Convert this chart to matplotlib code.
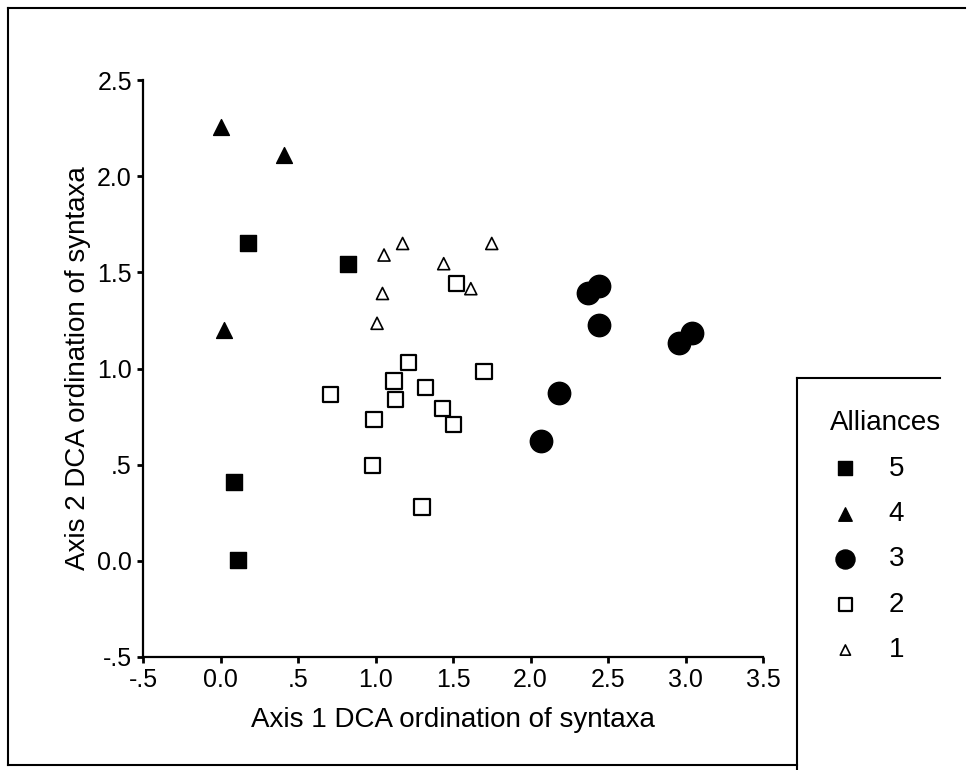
"""DCA ordination of syntaxa, axis 1 vs axis 2, coloured by alliance."""

import matplotlib

matplotlib.use("Agg")
import matplotlib.pyplot as plt
from matplotlib.lines import Line2D

plt.rcParams["font.family"] = ["Liberation Sans", "DejaVu Sans"]

# scores, one pair of lists per alliance
all5_x = [0.18, 0.82, 0.09, 0.11]
all5_y = [1.65, 1.545, 0.41, 0.005]

all4_x = [0.005, 0.41, 0.02]
all4_y = [2.255, 2.11, 1.20]

all3_x = [2.37, 2.445, 2.44, 2.185, 2.065, 2.955, 3.04]
all3_y = [1.39, 1.43, 1.225, 0.875, 0.625, 1.135, 1.185]

all2_x = [1.215, 1.70, 1.12, 1.13, 1.325, 1.43, 1.505, 0.99, 0.98, 0.71, 1.30, 1.525]
all2_y = [1.03, 0.985, 0.935, 0.84, 0.90, 0.79, 0.71, 0.735, 0.495, 0.865, 0.28, 1.44]

all1_x = [1.055, 1.175, 1.75, 1.44, 1.615, 1.045, 1.01]
all1_y = [1.59, 1.65, 1.65, 1.545, 1.415, 1.39, 1.235]

x_ticks = [-0.5, 0.0, 0.5, 1.0, 1.5, 2.0, 2.5, 3.0, 3.5]
x_tick_labels = ["-.5", "0.0", ".5", "1.0", "1.5", "2.0", "2.5", "3.0", "3.5"]
y_ticks = [-0.5, 0.0, 0.5, 1.0, 1.5, 2.0, 2.5]
y_tick_labels = ["-.5", "0.0", ".5", "1.0", "1.5", "2.0", "2.5"]

W, H = 975, 770


def fx(px):
    return px / W


def fy(py):
    return 1 - py / H


fig = plt.figure(figsize=(W / 100, H / 100), dpi=100)
ax = fig.add_axes([fx(143), fy(657), fx(763) - fx(143), fy(80) - fy(657)])

ax.scatter(all5_x, all5_y, marker="s", s=135, c="black", label="5", zorder=3)
ax.scatter(all4_x, all4_y, marker="^", s=130, c="black", label="4", zorder=3)
ax.scatter(all3_x, all3_y, marker="o", s=260, c="black", label="3", zorder=3)
ax.scatter(all2_x, all2_y, marker="s", s=120, facecolors="none", edgecolors="black",
           linewidths=1.6, label="2", zorder=3)
ax.scatter(all1_x, all1_y, marker="^", s=75, facecolors="none", edgecolors="black",
           linewidths=1.2, label="1", zorder=3)

ax.set_xlim(-0.5, 3.5)
ax.set_ylim(-0.5, 2.5)
ax.set_xticks(x_ticks)
ax.set_xticklabels(x_tick_labels)
ax.set_yticks(y_ticks)
ax.set_yticklabels(y_tick_labels)
ax.tick_params(direction="out", length=4, width=2, labelsize=18, pad=4)

for side in ("top", "right"):
    ax.spines[side].set_visible(False)
for side in ("left", "bottom"):
    ax.spines[side].set_linewidth(1.6)

ax.set_xlabel("Axis 1 DCA ordination of syntaxa", fontsize=20, labelpad=11)
ax.set_ylabel("Axis 2 DCA ordination of syntaxa", fontsize=20, labelpad=4)

# legend sits in a box open on the right and bottom
leg = fig.legend(loc="upper left", bbox_to_anchor=(fx(819), fy(399)), frameon=False,
                 title="Alliances", fontsize=20, title_fontsize=20,
                 labelspacing=0.7, handlelength=1.1, handletextpad=1.0,
                 markerscale=0.85, borderaxespad=0)
leg._legend_box.align = "left"

# page frame lines as in the original scan
frame = [
    ((8, 965), (8, 8)),
    ((8, 8), (8, 765)),
    ((8, 797), (765, 765)),
    ((797, 797), (378, 770)),
    ((797, 940), (378, 378)),
]
for xs, ys in frame:
    fig.add_artist(Line2D([fx(v) for v in xs], [fy(v) for v in ys],
                          color="black", linewidth=1.5))

fig.savefig("out.png", dpi=100)
